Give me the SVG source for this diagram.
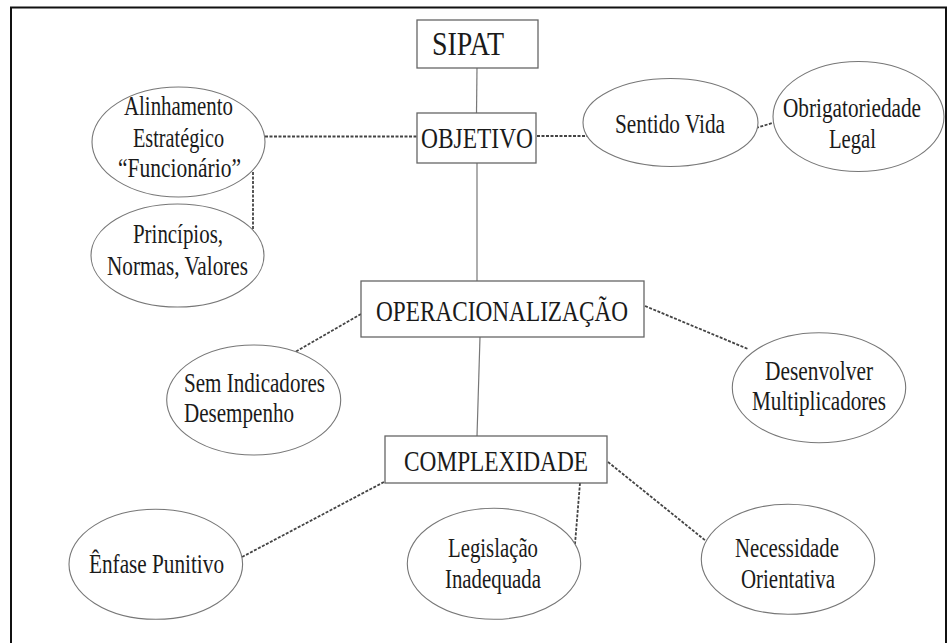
<svg xmlns="http://www.w3.org/2000/svg" width="948" height="643" viewBox="0 0 948 643">
<style>
.frame{fill:none;stroke:#111;stroke-width:2}
.box{fill:#fff;stroke:#666;stroke-width:1.3}
.ell{fill:#fff;stroke:#777;stroke-width:1.1}
.solid{stroke:#777;stroke-width:1.2;fill:none}
.dash{stroke:#444;stroke-width:1.8;stroke-dasharray:3 1.5;fill:none}
text{font-family:"Liberation Serif","Times New Roman",serif;fill:#1a1a1a}
.bt{font-size:30px}
.et{font-size:27px}
</style>
<rect width="948" height="643" fill="#fff"/>
<rect class="frame" x="11" y="7.5" width="935" height="640"/>
<g id="connectors">
<line class="solid" x1="477" y1="68" x2="476.5" y2="113"/>
<line class="solid" x1="477" y1="163" x2="477" y2="281"/>
<line class="solid" x1="480" y1="337" x2="477" y2="436"/>
<line class="dash" x1="265" y1="136.5" x2="417" y2="136.5"/>
<line class="dash" x1="253" y1="172" x2="253" y2="232"/>
<line class="dash" x1="537" y1="136" x2="590" y2="136"/>
<line class="dash" x1="756" y1="128" x2="774" y2="122.5"/>
<line class="dash" x1="361" y1="314" x2="295" y2="352"/>
<line class="dash" x1="645" y1="306" x2="748" y2="349"/>
<line class="dash" x1="384" y1="482" x2="242" y2="557"/>
<line class="dash" x1="580" y1="483" x2="575" y2="544"/>
<line class="dash" x1="608" y1="462" x2="706" y2="541"/>
</g>
<g id="sipat">
<rect class="box" x="417" y="20" width="121" height="48"/>
<text x="432" y="55" font-size="34" textLength="72" lengthAdjust="spacingAndGlyphs">SIPAT</text>
</g>
<g id="objetivo">
<rect class="box" x="417" y="113" width="119" height="50"/>
<text class="bt" x="421" y="148" textLength="112" lengthAdjust="spacingAndGlyphs">OBJETIVO</text>
</g>
<g id="operacionalizacao">
<rect class="box" x="361" y="281" width="283" height="56"/>
<text class="bt" x="376" y="321" textLength="252" lengthAdjust="spacingAndGlyphs">OPERACIONALIZAÇÃO</text>
</g>
<g id="complexidade">
<rect class="box" x="385" y="436" width="222" height="47"/>
<text class="bt" x="404" y="471" textLength="184" lengthAdjust="spacingAndGlyphs">COMPLEXIDADE</text>
</g>
<g id="alinhamento">
<ellipse class="ell" cx="178.5" cy="142" rx="86.5" ry="55"/>
<text class="et" x="124" y="115" textLength="109" lengthAdjust="spacingAndGlyphs">Alinhamento</text>
<text class="et" x="133" y="147" textLength="91" lengthAdjust="spacingAndGlyphs">Estratégico</text>
<text class="et" x="118" y="177" textLength="123" lengthAdjust="spacingAndGlyphs">“Funcionário”</text>
</g>
<g id="principios">
<ellipse class="ell" cx="177.5" cy="255.5" rx="86.5" ry="51.5"/>
<text class="et" x="133" y="243" textLength="90" lengthAdjust="spacingAndGlyphs">Princípios,</text>
<text class="et" x="107" y="275" textLength="141" lengthAdjust="spacingAndGlyphs">Normas, Valores</text>
</g>
<g id="sentido-vida">
<ellipse class="ell" cx="670.5" cy="122.5" rx="87.5" ry="44"/>
<text class="et" x="615" y="133" textLength="110" lengthAdjust="spacingAndGlyphs">Sentido Vida</text>
</g>
<g id="obrigatoriedade">
<ellipse class="ell" cx="858.5" cy="116.5" rx="85.5" ry="55"/>
<text class="et" transform="translate(852 117) scale(0.775 1)" x="0" y="0" text-anchor="middle" textLength="178" lengthAdjust="spacingAndGlyphs">Obrigatoriedade</text>
<text class="et" x="829" y="148" textLength="47" lengthAdjust="spacingAndGlyphs">Legal</text>
</g>
<g id="sem-indicadores">
<ellipse class="ell" cx="253.7" cy="400" rx="87" ry="55"/>
<text class="et" x="184" y="392" textLength="141" lengthAdjust="spacingAndGlyphs">Sem Indicadores</text>
<text class="et" x="184" y="422" textLength="110" lengthAdjust="spacingAndGlyphs">Desempenho</text>
</g>
<g id="desenvolver">
<ellipse class="ell" cx="819" cy="387.7" rx="86.7" ry="55"/>
<text class="et" x="765" y="380" textLength="108" lengthAdjust="spacingAndGlyphs">Desenvolver</text>
<text class="et" x="752" y="410" textLength="134" lengthAdjust="spacingAndGlyphs">Multiplicadores</text>
</g>
<g id="enfase">
<ellipse class="ell" cx="155.8" cy="564.3" rx="86.8" ry="55"/>
<text class="et" x="89" y="573" textLength="135" lengthAdjust="spacingAndGlyphs">Ênfase Punitivo</text>
</g>
<g id="legislacao">
<ellipse class="ell" cx="494" cy="563.8" rx="86.7" ry="55.5"/>
<text class="et" x="448" y="557" textLength="90" lengthAdjust="spacingAndGlyphs">Legislação</text>
<text class="et" x="445" y="588" textLength="96" lengthAdjust="spacingAndGlyphs">Inadequada</text>
</g>
<g id="necessidade">
<ellipse class="ell" cx="788" cy="559.3" rx="86.7" ry="55"/>
<text class="et" x="735" y="557" textLength="104" lengthAdjust="spacingAndGlyphs">Necessidade</text>
<text class="et" x="741" y="588" textLength="94" lengthAdjust="spacingAndGlyphs">Orientativa</text>
</g>
</svg>
